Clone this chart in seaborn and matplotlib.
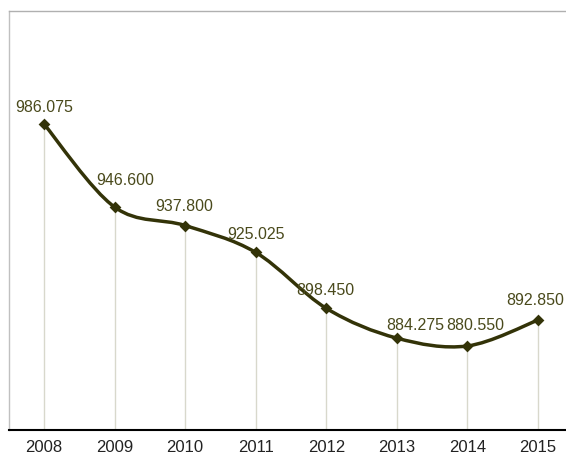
import numpy as np
import pandas as pd
import matplotlib
matplotlib.use("Agg")
import matplotlib.pyplot as plt
from matplotlib.path import Path
from matplotlib.patches import PathPatch
import seaborn as sns

# values
years = ["2008", "2009", "2010", "2011", "2012", "2013", "2014", "2015"]
values = [986.075, 946.600, 937.800, 925.025, 898.450, 884.275, 880.550, 892.850]

# label nudges in pixels (dx, dy) so the numbers sit where the original put them
label_nudge = [(0, 17), (11, 27), (-1, 19), (0, 18), (-1, 17.5), (18, 12.5), (8, 20.5), (-3, 19.5)]

df = pd.DataFrame({"year": years, "value": values})
df["pos"] = np.arange(len(df))

sns.set_style("white")
plt.rcParams["font.family"] = ["Liberation Sans", "DejaVu Sans"]

line_color = "#333308"
label_color = "#4a4a1c"

fig = plt.figure(figsize=(5.66, 4.62), dpi=100)
ax = fig.add_axes([8.7 / 566, 32 / 462, 564.6 / 566, 419 / 462])
ax.set_xlim(-0.5, 7.5)
ax.set_ylim(840.6, 1039.8)

# drop lines from each point down to the axis
ax.vlines(df["pos"], 840.6, df["value"], color="#d8d8cc", lw=1, zorder=1)

# smoothed line: Catmull-Rom converted to cubic bezier segments
pts = df[["pos", "value"]].to_numpy(dtype=float)
verts = [tuple(pts[0])]
codes = [Path.MOVETO]
n = len(pts)
for i in range(n - 1):
    p0 = pts[max(i - 1, 0)]
    p1 = pts[i]
    p2 = pts[i + 1]
    p3 = pts[min(i + 2, n - 1)]
    c1 = p1 + (p2 - p0) / 6.0
    c2 = p2 - (p3 - p1) / 6.0
    verts += [tuple(c1), tuple(c2), tuple(p2)]
    codes += [Path.CURVE4] * 3
ax.add_patch(PathPatch(Path(verts, codes), fill=False, edgecolor=line_color,
                       lw=2.5, capstyle="round", joinstyle="round", zorder=2))

sns.scatterplot(data=df, x="pos", y="value", marker="D", s=36, color=line_color,
                edgecolor=line_color, linewidth=0, ax=ax, zorder=3, legend=False)

for (px, val), (dx, dy) in zip(pts, label_nudge):
    ax.annotate(f"{val:.3f}", (px, val), xytext=(dx * 0.72, dy * 0.72),
                textcoords="offset points", ha="center", va="center",
                fontsize=11.5, color=label_color, zorder=4)

ax.set_xticks(df["pos"])
ax.set_xticklabels(years)
ax.set_xticks(np.arange(0.5, len(df) - 1, 1.0), minor=True)
ax.tick_params(axis="x", which="major", length=0, pad=7, labelsize=12, labelcolor="#222222")
ax.tick_params(axis="x", which="minor", direction="in", length=5, width=0.8, color="#c8c8c8")
ax.set_yticks([])
ax.set_xlabel("")
ax.set_ylabel("")

ax.spines["bottom"].set_color("black")
ax.spines["bottom"].set_linewidth(1.5)
ax.spines["left"].set_color("#c0c0c0")
ax.spines["left"].set_linewidth(1)
ax.spines["top"].set_color("#b0b0b0")
ax.spines["top"].set_linewidth(1)
ax.spines["right"].set_visible(False)

fig.savefig("out.png", dpi=100)
